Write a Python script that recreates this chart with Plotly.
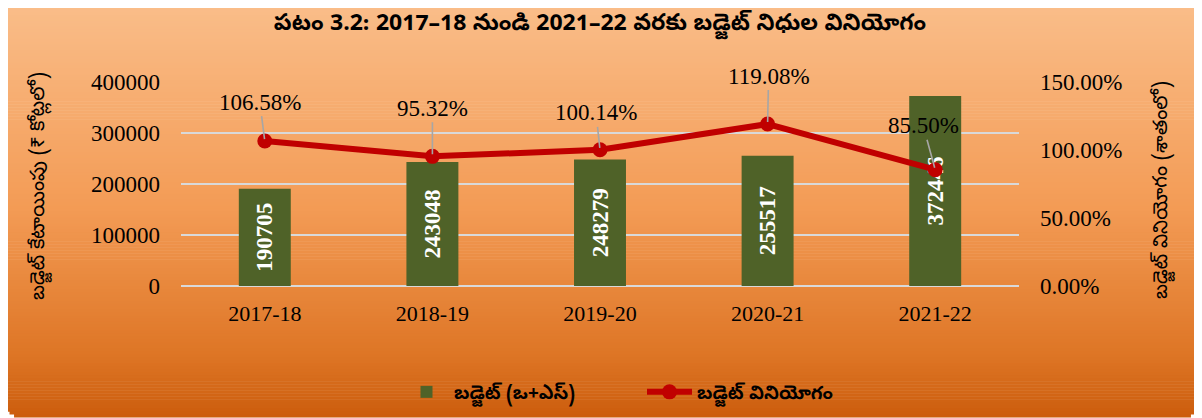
import plotly.graph_objects as go
import math

# ---- data ----
years = ["2017-18", "2018-19", "2019-20", "2020-21", "2021-22"]
budget = [190705, 243048, 248279, 255517, 372446]
utilization = [1.0658, 0.9532, 1.0014, 1.1908, 0.8550]
util_labels = ["106.58%", "95.32%", "100.14%", "119.08%", "85.50%"]
label_offsets = [(-5, -39), (0, -48), (-4, -37), (1, -48), (-12, -44)]

title_text = "పటం 3.2: 2017–18 నుండి 2021–22 వరకు బడ్జెట్ నిధుల వినియోగం"
left_title = "బడ్జెట్ కేటాయింపు (₹ కోట్లలో)"
right_title = "బడ్జెట్ వినియోగం (శాతంలో)"
bar_name = "బడ్జెట్ (ఒ+ఎస్)"
line_name = "బడ్జెట్ వినియోగం"

W, H = 1202, 418
OFF = 8  # page body margin offset
PW, PH = 838, 204
L, T = 181 - OFF, 82 - OFF
R, B = W - L - PW, H - T - PH

TEL = "Noto Sans Telugu, Gautami, Noto Sans, DejaVu Sans"
SERIF = "Liberation Serif, Times New Roman, serif"

def fx(px):
    return (px - OFF - L) / PW

def fy(py):
    return (H - B - (py - OFF)) / PH

# gradient background strips
stops = [(0.0, (250, 190, 138)), (0.5, (243, 155, 85)), (0.85, (222, 118, 38)), (1.0, (204, 93, 13))]

def col(t):
    for i in range(len(stops) - 1):
        a, ca = stops[i]
        b, cb = stops[i + 1]
        if a <= t <= b:
            u = (t - a) / (b - a)
            return "rgb(%d,%d,%d)" % tuple(round(ca[k] + (cb[k] - ca[k]) * u) for k in range(3))
    return "rgb(%d,%d,%d)" % stops[-1][1]

shapes = []
x_left, x_right, y_top, y_bot, rad = 4, 1201, 0, 417, 17
N = 140
for i in range(N):
    y0 = y_top + (y_bot - y_top) * i / N
    y1 = y_top + (y_bot - y_top) * (i + 1) / N
    ym = (y0 + y1) / 2
    inset = 0
    if ym > y_bot - rad:
        dy = ym - (y_bot - rad)
        inset = rad - math.sqrt(max(rad * rad - dy * dy, 0))
    shapes.append(dict(type="rect", xref="paper", yref="paper", layer="below",
                       x0=fx(x_left + inset), x1=fx(x_right - inset),
                       y0=fy(y1 + 0.6), y1=fy(y0 - (OFF if i == 0 else 0)),
                       fillcolor=col(i / (N - 1)), line=dict(width=0)))

fig = go.Figure()
fig.add_trace(go.Bar(
    x=years, y=budget, name=bar_name,
    marker=dict(color="#4F6228", line=dict(width=0)),
    width=0.31,
    text=[str(v) for v in budget], textposition="inside", textangle=-90,
    insidetextanchor="middle",
    textfont=dict(family=SERIF, size=23, color="white", weight="bold"),
    yaxis="y",
))
fig.add_trace(go.Scatter(
    x=years, y=utilization, name=line_name, mode="lines+markers",
    line=dict(color="#C00000", width=6),
    marker=dict(color="#C00000", size=15),
    yaxis="y2",
))

annotations = []
for yr, u, lab, (ax, ay) in zip(years, utilization, util_labels, label_offsets):
    annotations.append(dict(x=yr, y=u, xref="x", yref="y2", text=lab,
                            showarrow=True, arrowhead=0, arrowwidth=1.6,
                            arrowcolor="#A6A6A6", ax=ax, ay=ay, standoff=2,
                            font=dict(family=SERIF, size=23, color="black")))
annotations.append(dict(x=fx(40), y=fy(186), xref="paper", yref="paper", text=left_title,
                        showarrow=False, textangle=-90, xanchor="center", yanchor="middle",
                        font=dict(family=TEL, size=20, color="black")))
annotations.append(dict(x=fx(1163), y=fy(190), xref="paper", yref="paper", text=right_title,
                        showarrow=False, textangle=-90, xanchor="center", yanchor="middle",
                        font=dict(family=TEL, size=20, color="black")))

fig.update_layout(
    width=W, height=H,
    margin=dict(l=L, r=R, t=T, b=B, autoexpand=False),
    paper_bgcolor="white", plot_bgcolor="rgba(0,0,0,0)",
    title=dict(text=title_text, x=(600 - OFF) / W, xanchor="center",
               y=1 - (22 - OFF) / H, yanchor="middle",
               font=dict(family=TEL, size=23, color="black", weight="bold")),
    shapes=shapes,
    annotations=annotations,
    showlegend=True,
    legend=dict(orientation="h", x=0.5 + 42 / PW, xanchor="center", y=fy(392), yanchor="middle",
                font=dict(family=TEL, size=19, color="black", weight="bold"),
                bgcolor="rgba(0,0,0,0)", entrywidth=183, itemwidth=45),
    xaxis=dict(tickfont=dict(family=SERIF, size=22, color="black"), showgrid=False,
               showline=False, ticks="", ticklabelstandoff=12, automargin=False),
    yaxis=dict(range=[0, 400000], dtick=100000, tickformat="d",
               tickfont=dict(family=SERIF, size=23, color="black"),
               gridcolor="#D9D9D9", gridwidth=2, zeroline=True, zerolinecolor="#D9D9D9",
               zerolinewidth=2, showline=False, ticks="", ticklabelstandoff=20,
               automargin=False),
    yaxis2=dict(range=[0, 1.5], dtick=0.5, tickformat=".2%", overlaying="y", side="right",
                tickfont=dict(family=SERIF, size=23, color="black"),
                showgrid=False, zeroline=False, showline=False, ticks="", ticklabelstandoff=20,
                automargin=False),
)

fig.write_html("out.html")
